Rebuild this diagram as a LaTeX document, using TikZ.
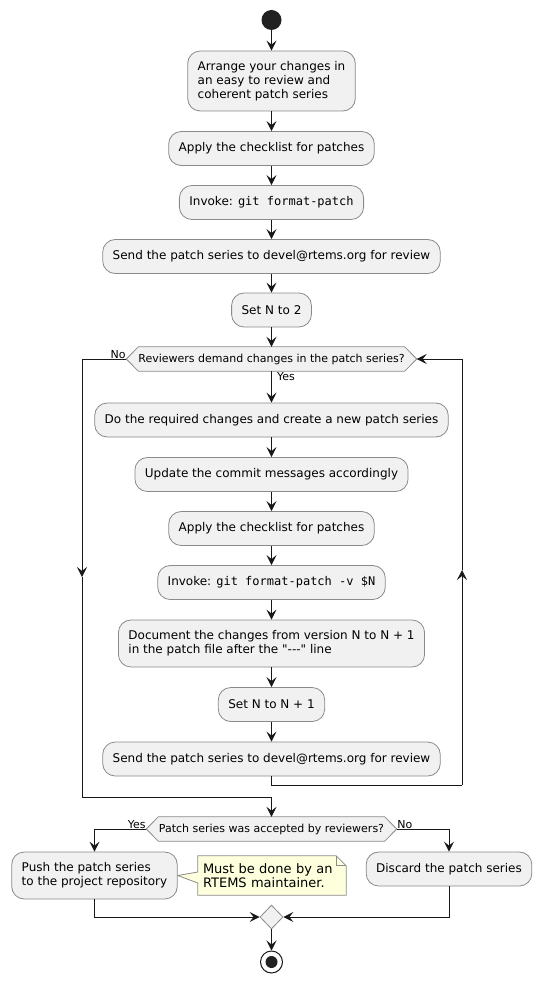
\documentclass[tikz,border=0pt]{standalone}
\usepackage{fontspec}
\setmainfont{DejaVu Sans}[Ligatures=TeXOff]
\setmonofont{DejaVu Sans Mono}
\usetikzlibrary{positioning,arrows.meta,backgrounds,shapes.geometric}
\definecolor{umlfill}{HTML}{F1F1F1}
\definecolor{umlline}{HTML}{181818}
\definecolor{umlborder}{HTML}{8A8A8A}
\definecolor{umlnote}{HTML}{FEFFDD}
\definecolor{umldot}{HTML}{222222}

\begin{document}
\begin{tikzpicture}[x=1pt,y=-1pt,
    act/.style={draw=umlborder,line width=0.8pt,fill=umlfill,
                rounded corners=12.5pt,inner xsep=10pt,inner ysep=0pt,
                minimum height=34pt,align=left,
                font=\fontsize{12pt}{14pt}\selectfont},
    dec/.style={inner sep=0pt,minimum height=24pt,
                font=\fontsize{11pt}{13pt}\selectfont},
    decshape/.style={draw=umlborder,line width=0.8pt,fill=umlfill},
    lbl/.style={inner sep=0.5pt,font=\fontsize{11pt}{13pt}\selectfont},
    notebox/.style={inner xsep=5pt,inner ysep=0pt,text width=138pt,
                    minimum height=39pt,align=left,
                    font=\fontsize{13pt}{14pt}\selectfont},
    merge/.style={diamond,aspect=1,draw=umlborder,line width=0.8pt,
                  fill=umlfill,inner sep=0pt,minimum width=23pt,
                  minimum height=24pt},
    startdot/.style={circle,fill=umldot,inner sep=0pt,minimum size=20pt},
    stopring/.style={circle,draw=umlline,line width=1pt,inner sep=0pt,
                     minimum size=22pt},
    line/.style={draw=umlline,line width=1pt},
    flow/.style={line,-{Stealth[length=10pt,width=10pt,inset=4pt]}}]
  \useasboundingbox (0,0) rectangle (542,981);

  % main column
  \node[startdot] (start) at (271.5,20) {};
  \node[act,minimum height=60pt] (arrange) at (271.5,81)
    {Arrange your changes in\\an easy to review and\\coherent patch series};
  \node[act] (check1) at (271.5,148.5) {Apply the checklist for patches};
  \node[act] (invoke1) at (271.5,202.5) {Invoke: \texttt{git format-patch}};
  \node[act] (send1) at (271.5,256.5)
    {Send the patch series to devel@rtems.org for review};
  \node[act] (setn) at (271.5,310) {Set N to 2};
  \node[dec,minimum width=290pt] (demand) at (271.5,359)
    {Reviewers demand changes in the patch series?};

  % review loop
  \node[act] (redo) at (271.5,420)
    {Do the required changes and create a new patch series};
  \node[act] (commit) at (271.5,474.5)
    {Update the commit messages accordingly};
  \node[act] (check2) at (271.5,528.5) {Apply the checklist for patches};
  \node[act] (invoke2) at (271.5,582.5)
    {Invoke: \texttt{git format-patch -v \$N}};
  \node[act,minimum height=47pt] (document) at (271.5,643.5)
    {Document the changes from version N to N + 1\\in the patch file after the "---" line};
  \node[act] (incn) at (271.5,704.5) {Set N to N + 1};
  \node[act] (send2) at (271.5,759)
    {Send the patch series to devel@rtems.org for review};

  % final decision
  \node[dec,minimum width=250pt] (accepted) at (271.5,829)
    {Patch series was accepted by reviewers?};
  \node[act,minimum height=47pt] (push) at (94.5,875.5)
    {Push the patch series\\to the project repository};
  \node[act] (discard) at (449,869) {Discard the patch series};
  \node[notebox] (note) at (272,875.5) {Must be done by an\\RTEMS maintainer.};
  \node[merge] (merge) at (271.5,917) {};
  \node[stopring] (stop) at (271.5,962) {};
  \node[startdot,minimum size=12pt] (stopin) at (stop) {};

  % hexagons and note outline
  \begin{scope}[on background layer]
    \foreach \d in {demand,accepted}
      \draw[decshape] (\d.west) -- ([xshift=12pt]\d.north west)
        -- ([xshift=-12pt]\d.north east) -- (\d.east)
        -- ([xshift=-12pt]\d.south east) -- ([xshift=12pt]\d.south west)
        -- cycle;
    \draw[draw=umlborder,line width=0.8pt,fill=umlnote]
      (note.north west) -- ([xshift=-10pt]note.north east)
      -- ([yshift=-10pt]note.north east) -- (note.south east)
      -- (note.south west) -- ([yshift=-7.5pt]note.west)
      -- (push.east) -- ([yshift=3.5pt]note.west) -- cycle;
    \draw[draw=umlborder,line width=0.8pt]
      ([xshift=-10pt]note.north east) -- ([xshift=-10pt,yshift=-10pt]note.north east)
      -- ([yshift=-10pt]note.north east);
  \end{scope}

  % straight arrows
  \foreach \a/\b in {start/arrange,arrange/check1,check1/invoke1,
                     invoke1/send1,send1/setn,setn/demand,demand/redo,
                     redo/commit,commit/check2,check2/invoke2,
                     invoke2/document,document/incn,incn/send2,merge/stop}
    \draw[flow] (\a) -- (\b);

  % loop back and exit
  \coordinate (lmid) at (82,577);
  \coordinate (lcorner) at (82,797);
  \coordinate (rcorner) at (462,785);
  \coordinate (rmid) at (462,570);
  \draw[flow] (demand.west) -| (lmid);
  \draw[line] (lmid) -- (lcorner);
  \draw[flow] (lcorner) -| (accepted.north);
  \draw[line] (send2.south) |- (rcorner);
  \draw[flow] (rcorner) -- (rmid);
  \draw[flow] (rmid) |- (demand.east);

  % branches
  \draw[flow] (accepted.west) -| (push.north);
  \draw[flow] (accepted.east) -| (discard.north);
  \draw[flow] (push.south) |- (merge.west);
  \draw[flow] (discard.south) |- (merge.east);

  \node[lbl,anchor=south east] (no1) at (demand.west) {No};
  \node[lbl,anchor=north west] (yes1) at ([xshift=5pt,yshift=-1pt]demand.south) {Yes};
  \node[lbl,anchor=south east] (yes2) at (accepted.west) {Yes};
  \node[lbl,anchor=south west] (no2) at (accepted.east) {No};
\end{tikzpicture}
\end{document}
